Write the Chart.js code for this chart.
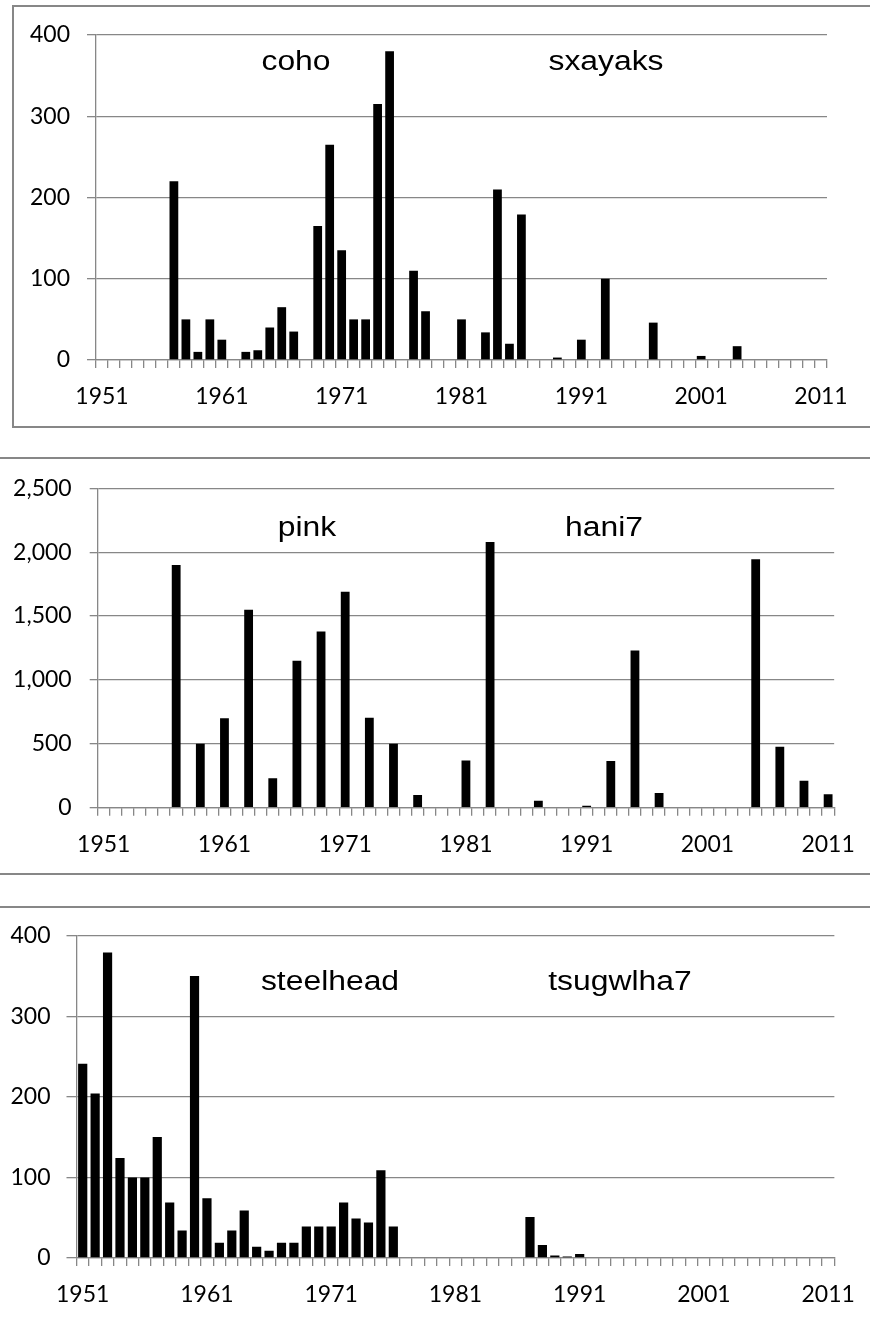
<!DOCTYPE html>
<html>
<head>
<meta charset="utf-8">
<script src="https://cdn.jsdelivr.net/npm/chart.js@4.4.1/dist/chart.umd.min.js"></script>
<style>
  html, body { margin:0; padding:0; background:#fff; }
  body { width:870px; height:1323px; overflow:hidden; position:relative; }
  .box { position:absolute; box-sizing:border-box; border:2px solid #878787; }
  canvas { position:absolute; left:0; }
</style>
</head>
<body>
<div class="box" style="left:12px; top:5px; width:900px; height:423px;"></div>
<div class="box" style="left:-10px; top:457px; width:900px; height:418px;"></div>
<div class="box" style="left:-10px; top:906px; width:900px; height:500px;"></div>
<canvas id="c1" width="870" height="430" style="top:0px"></canvas>
<canvas id="c2" width="870" height="440" style="top:440px"></canvas>
<canvas id="c3" width="870" height="433" style="top:890px"></canvas>
<script>
// ---- data ----
const categories = ["1951","1952","1953","1954","1955","1956","1957","1958","1959","1960",
  "1961","1962","1963","1964","1965","1966","1967","1968","1969","1970",
  "1971","1972","1973","1974","1975","1976","1977","1978","1979","1980",
  "1981","1982","1983","1984","1985","1986","1987","1988","1989","1990",
  "1991","1992","1993","1994","1995","1996","1997","1998","1999","2000",
  "2001","2002","2003","2004","2005","2006","2007","2008","2009","2010",
  "2011"];
const tickLabels = ["1951","1961","1971","1981","1991","2001","2011"];

const coho = [null,null,null,null,null,null,220,50,10,50,
  25,null,10,12,40,65,35,null,165,265,
  135,50,50,315,380,null,110,60,null,null,
  50,null,34,210,20,179,null,null,3,null,
  25,null,100,null,null,null,46,null,null,null,
  5,null,null,17,null,null,null,null,null,null,
  null];

const pink = [null,null,null,null,null,null,1900,null,500,null,
  700,null,1550,null,230,null,1150,null,1380,null,
  1690,null,705,null,500,null,100,null,null,null,
  370,null,2080,null,null,null,55,null,null,null,
  15,null,365,null,1230,null,115,null,null,null,
  null,null,null,null,1945,null,478,null,210,null,
  105];

const steelhead = [241,204,379,124,100,100,150,69,34,350,
  74,19,34,59,14,9,19,19,39,39,
  39,69,49,44,109,39,null,null,null,null,
  null,null,null,null,null,null,51,16,3,2,
  5,null,null,null,null,null,null,null,null,null,
  null,null,null,null,null,null,null,null,null,null,
  null];

const titles1 = ["coho", "sxayaks"];
const titles2 = ["pink", "hani7"];
const titles3 = ["steelhead", "tsugwlha7"];

// ---- rendering ----
const GRID = '#878787';
const tickFont = { family: 'Lato', size: 23 };

function titlePlugin(items) {
  return {
    id: 'innerTitles',
    afterDraw(chart) {
      const ctx = chart.ctx;
      ctx.save();
      ctx.font = '27px "Liberation Sans", Arial, sans-serif';
      ctx.fillStyle = '#000';
      ctx.textAlign = 'center';
      ctx.textBaseline = 'alphabetic';
      items.forEach(t => {
        ctx.save();
        ctx.translate(t.x, t.y);
        ctx.scale(1.18, 1);
        ctx.fillText(t.text, 0, 0);
        ctx.restore();
      });
      ctx.restore();
    }
  };
}

function makeChart(id, values, opt) {
  return new Chart(document.getElementById(id), {
    type: 'bar',
    data: {
      labels: categories,
      datasets: [{
        data: values,
        backgroundColor: '#000',
        borderWidth: 0,
        barPercentage: opt.barPct,
        categoryPercentage: 1
      }]
    },
    options: {
      responsive: false,
      animation: false,
      events: [],
      layout: { padding: { left: 0, right: opt.padRight, top: opt.padTop, bottom: 0 } },
      plugins: { legend: { display: false }, tooltip: { enabled: false }, title: { display: false } },
      scales: {
        x: {
          offset: true,
          grid: { offset: true, drawOnChartArea: false, drawTicks: true, tickLength: 8, color: GRID, lineWidth: 1.3 },
          border: { display: true, color: GRID, width: 1.3 },
          ticks: {
            autoSkip: false, maxRotation: 0, minRotation: 0, padding: 15,
            color: '#000', font: tickFont,
            callback: function(v, i) { return tickLabels.includes(categories[i]) ? categories[i] : ''; }
          },
          afterFit: s => { s.height = opt.xHeight; }
        },
        y: {
          min: 0, max: opt.max,
          grid: { drawTicks: true, tickLength: opt.yTick, color: GRID, lineWidth: 1.3 },
          border: { display: true, color: GRID, width: 1.3 },
          ticks: {
            stepSize: opt.step, padding: opt.yPad, color: '#000', font: tickFont,
            callback: v => Number(v).toLocaleString('en-US')
          },
          afterFit: s => { s.width = opt.yWidth; }
        }
      }
    },
    plugins: [titlePlugin(opt.titles)]
  });
}

makeChart('c1', coho, {
  max: 400, step: 100, barPct: 0.73,
  yWidth: 96, padRight: 43, padTop: 35, xHeight: 70, yTick: 9, yPad: 17,
  titles: [{ text: titles1[0], x: 296, y: 70 }, { text: titles1[1], x: 606, y: 70 }]
});

makeChart('c2', pink, {
  max: 2500, step: 500, barPct: 0.73,
  yWidth: 97.7, padRight: 24.3, padTop: 48.3, xHeight: 72.3, yTick: 8, yPad: 18,
  titles: [{ text: titles2[0], x: 307, y: 96 }, { text: titles2[1], x: 604, y: 96 }]
});

makeChart('c3', steelhead, {
  max: 400, step: 100, barPct: 0.74,
  yWidth: 76.5, padRight: 20, padTop: 45.6, xHeight: 65, yTick: 10, yPad: 16,
  titles: [{ text: titles3[0], x: 330, y: 100 }, { text: titles3[1], x: 620, y: 100 }]
});
</script>
</body>
</html>
